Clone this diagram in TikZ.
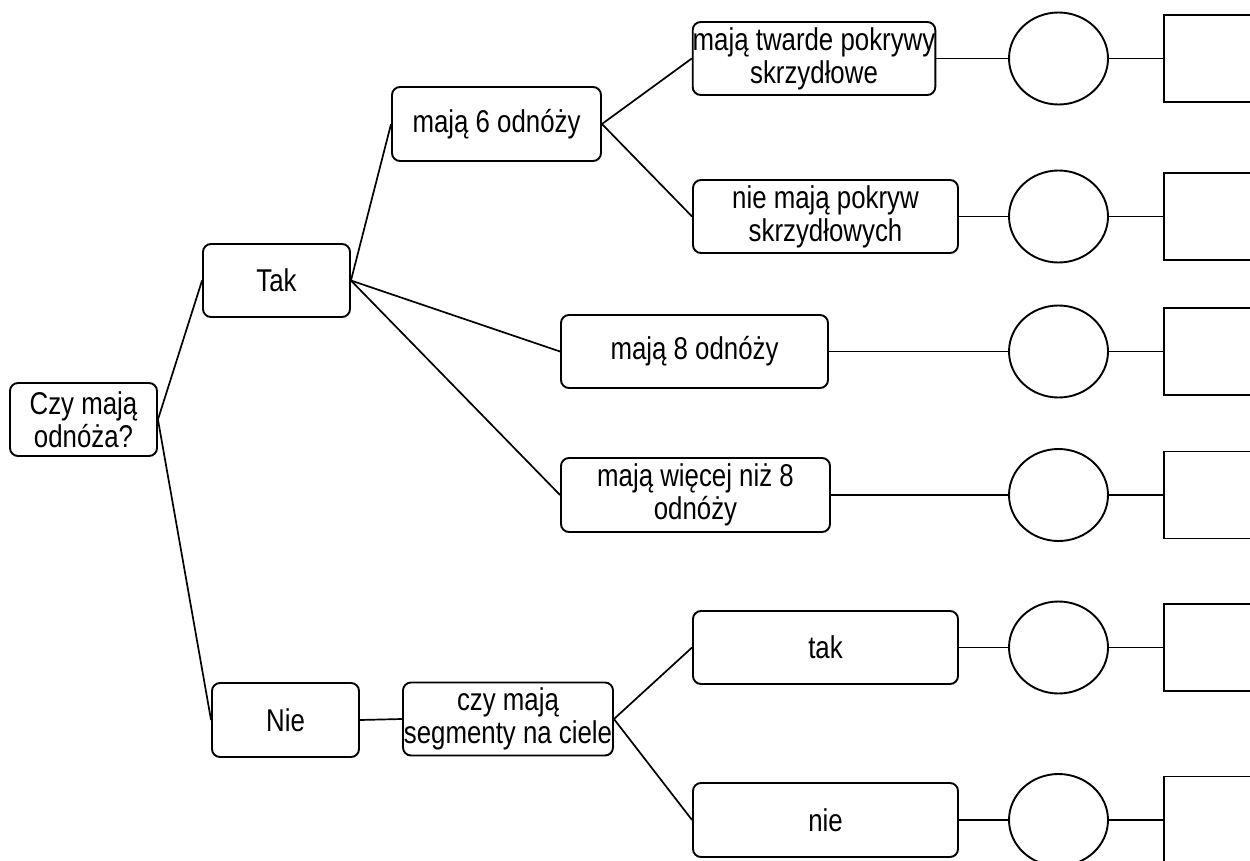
\documentclass[tikz,border=0pt]{standalone}
\usepackage{fontspec}
\setmainfont[FakeStretch=0.82]{Liberation Sans}
\usetikzlibrary{shapes.geometric}
\begin{document}
\begin{tikzpicture}[x=1pt,y=-1pt,
  every node/.style={font=\fontsize{31.5}{33}\selectfont},
  box/.style={draw,line width=1.9pt,rounded corners=8pt,align=center,inner sep=0pt,minimum height=73pt},
  circ/.style={draw,line width=1.9pt,ellipse,minimum width=99pt,minimum height=92pt,inner sep=0pt},
  sq/.style={draw,line width=1.9pt,rectangle,minimum width=100pt,minimum height=87pt,inner sep=0pt,anchor=west},
  conn/.style={line width=1.7pt}]
\useasboundingbox (0,0) rectangle (1250,861);
\clip (0,0) rectangle (1250,861);
\node[box,minimum width=147pt] (czy) at (83.5,419.5) {Czy mają\\odnóża?};
\node[box,minimum width=147pt] (tak) at (276.5,280.5) {Tak};
\node[box,minimum width=147pt,minimum height=74pt] (nie) at (285.5,720) {Nie};
\node[box,minimum width=209pt,minimum height=74pt] (m6) at (496.5,124) {mają 6 odnóży};
\node[box,minimum width=242pt] (tw) at (814,58.5) {mają twarde pokrywy\\skrzydłowe};
\node[box,minimum width=265pt] (np) at (825.5,216.5) {nie mają pokryw\\skrzydłowych};
\node[box,minimum width=267pt] (m8) at (694.5,351.5) {mają 8 odnóży};
\node[box,minimum width=269pt,minimum height=74pt] (mw) at (695.5,495) {mają więcej niż 8\\odnóży};
\node[box,minimum width=210pt] (sg) at (508,719) {czy mają\\segmenty na ciele};
\node[box,minimum width=265pt] (tk) at (825.5,647.5) {tak};
\node[box,minimum width=265pt,minimum height=74pt] (ni) at (825.5,820) {nie};
\foreach \n/\y in {1/58.5,2/216.5,3/351.5,4/495,5/647.5,6/820}{
  \node[circ] (c\n) at (1058.5,\y) {};
  \node[sq] (s\n) at (1163,\y) {};
}
\draw[conn] (czy.east) -- (tak.west);
\draw[conn] (czy.east) -- (nie.west);
\draw[conn] (tak.east) -- (m6.west);
\draw[conn] (tak.east) -- (m8.west);
\draw[conn] (tak.east) -- (mw.west);
\draw[conn] (m6.east) -- (tw.west);
\draw[conn] (m6.east) -- (np.west);
\draw[conn] (nie.east) -- (sg.west);
\draw[conn] (sg.east) -- (tk.west);
\draw[conn] (sg.east) -- (ni.west);
\draw[conn] (tw.east) -- (c1.west);
\draw[conn] (np.east) -- (c2.west);
\draw[conn] (m8.east) -- (c3.west);
\draw[conn] (mw.east) -- (c4.west);
\draw[conn] (tk.east) -- (c5.west);
\draw[conn] (ni.east) -- (c6.west);
\foreach \n in {1,...,6}{\draw[conn] (c\n.east) -- (s\n.west);}
\end{tikzpicture}
\end{document}
